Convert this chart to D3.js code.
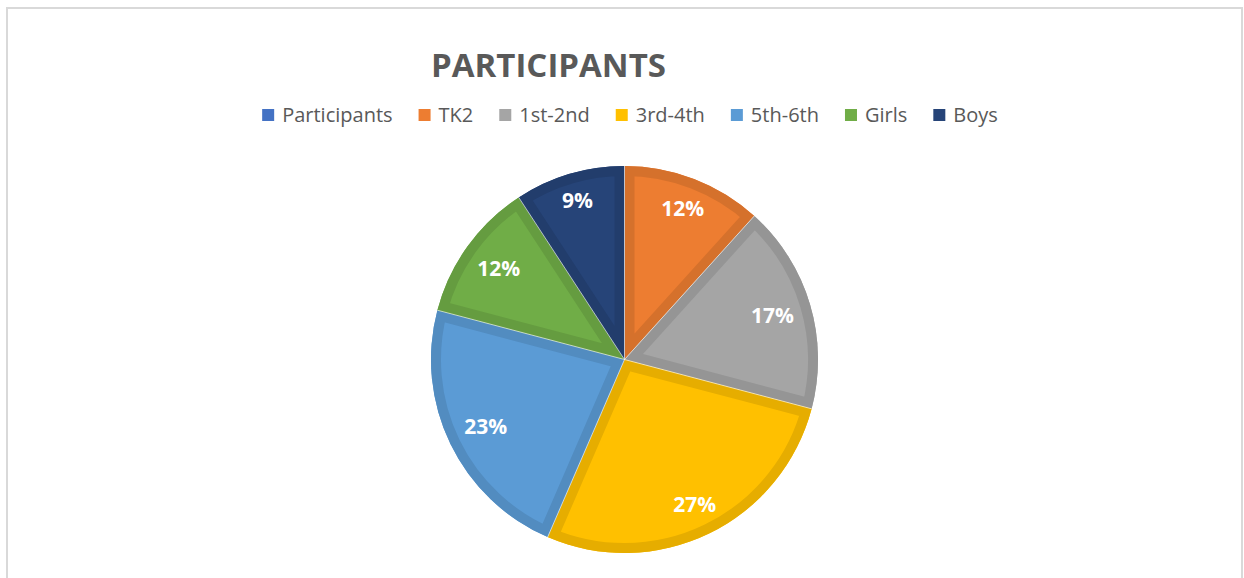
<!DOCTYPE html>
<html>
<head>
<meta charset="utf-8">
<script src="https://cdn.jsdelivr.net/npm/d3@7"></script>
<style>
  html, body { margin: 0; padding: 0; background: #fff; }
  svg { display: block; }
</style>
</head>
<body>
<svg id="chart" width="1244" height="578"></svg>
<script>
// ---- data ----
const title = "PARTICIPANTS";
const categories = ["Participants", "TK2", "1st-2nd", "3rd-4th", "5th-6th", "Girls", "Boys"];
const values = [null, 11.7, 17.4, 27.4, 22.6, 11.7, 9.2];
const colors = ["#4472C4", "#ED7D31", "#A5A5A5", "#FFC000", "#5B9BD5", "#70AD47", "#264478"];

// ---- layout ----
const cx = 624.5, cy = 359.5, R = 193.5;
const band = 10;
const svg = d3.select("#chart");

// chart frame
svg.append("rect")
  .attr("x", 7).attr("y", 8).attr("width", 1235).attr("height", 640)
  .attr("fill", "#fff").attr("stroke", "#d9d9d9").attr("stroke-width", 2);

// title
svg.append("text")
  .attr("x", 548.5).attr("y", 77)
  .attr("text-anchor", "middle")
  .attr("font-family", "'Open Sans', sans-serif")
  .attr("font-weight", 700)
  .attr("font-size", 33)
  .attr("fill", "#595959")
  .text(title);

// legend
const legend = svg.append("g").attr("font-family", "'Open Sans', sans-serif")
  .attr("font-size", 20).attr("fill", "#595959");
const items = categories.map((c, i) => {
  const g = legend.append("g");
  g.append("rect").attr("width", 12).attr("height", 12).attr("y", -13).attr("fill", colors[i]);
  const t = g.append("text").attr("x", 20).attr("y", 0).text(c);
  return { g, w: 20 + t.node().getComputedTextLength() };
});
const gap = 26;
const totalW = d3.sum(items, d => d.w) + gap * (items.length - 1);
let lx = 630 - totalW / 2;
items.forEach(it => { it.g.attr("transform", `translate(${lx},122)`); lx += it.w + gap; });

// pie
const data = categories.map((c, i) => ({ cat: c, value: values[i], color: colors[i], i }))
  .filter(d => d.value != null && d.value > 0);
const total = d3.sum(data, d => d.value);
const pie = d3.pie().sort(null).value(d => d.value).startAngle(0).endAngle(2 * Math.PI);
const arcs = pie(data);
const arc = d3.arc().innerRadius(0).outerRadius(R);

function darken(c, k) {
  const r = d3.rgb(c);
  return d3.rgb(r.r * k, r.g * k, r.b * k).formatHex();
}

const defs = svg.append("defs");
const gPie = svg.append("g").attr("transform", `translate(${cx},${cy})`);

arcs.forEach((a, j) => {
  const id = "clip" + j;
  defs.append("clipPath").attr("id", id)
    .append("path").attr("d", arc(a));
  gPie.append("path").attr("d", arc(a)).attr("fill", a.data.color);
  gPie.append("path")
    .attr("d", arc(a))
    .attr("fill", "none")
    .attr("stroke", darken(a.data.color, 0.9))
    .attr("stroke-width", band * 2)
    .attr("stroke-linejoin", "miter")
    .attr("stroke-miterlimit", 20)
    .attr("clip-path", `url(#${id})`);
});

// thin white separators
arcs.forEach(a => {
  gPie.append("line")
    .attr("x1", 0).attr("y1", 0)
    .attr("x2", R * Math.sin(a.startAngle)).attr("y2", -R * Math.cos(a.startAngle))
    .attr("stroke", "#ffffff").attr("stroke-opacity", 0.6).attr("stroke-width", 1);
});

// labels (inside end)
const gLab = svg.append("g").attr("transform", `translate(${cx},${cy})`)
  .attr("font-family", "'Open Sans', sans-serif").attr("font-weight", 700)
  .attr("font-size", 21).attr("fill", "#fff").attr("text-anchor", "middle");
arcs.forEach(a => {
  const pct = Math.round(a.data.value / total * 100) + "%";
  const t = gLab.append("text").text(pct);
  const w = t.node().getComputedTextLength();
  const h = 15;
  const mid = (a.startAngle + a.endAngle) / 2;
  const s = Math.sin(mid), c = Math.cos(mid);
  const proj = Math.abs(s) * w / 2 + Math.abs(c) * h / 2;
  const r = R - 16.5 - proj;
  t.attr("x", r * s).attr("y", -r * c + h / 2);
});
</script>
</body>
</html>
